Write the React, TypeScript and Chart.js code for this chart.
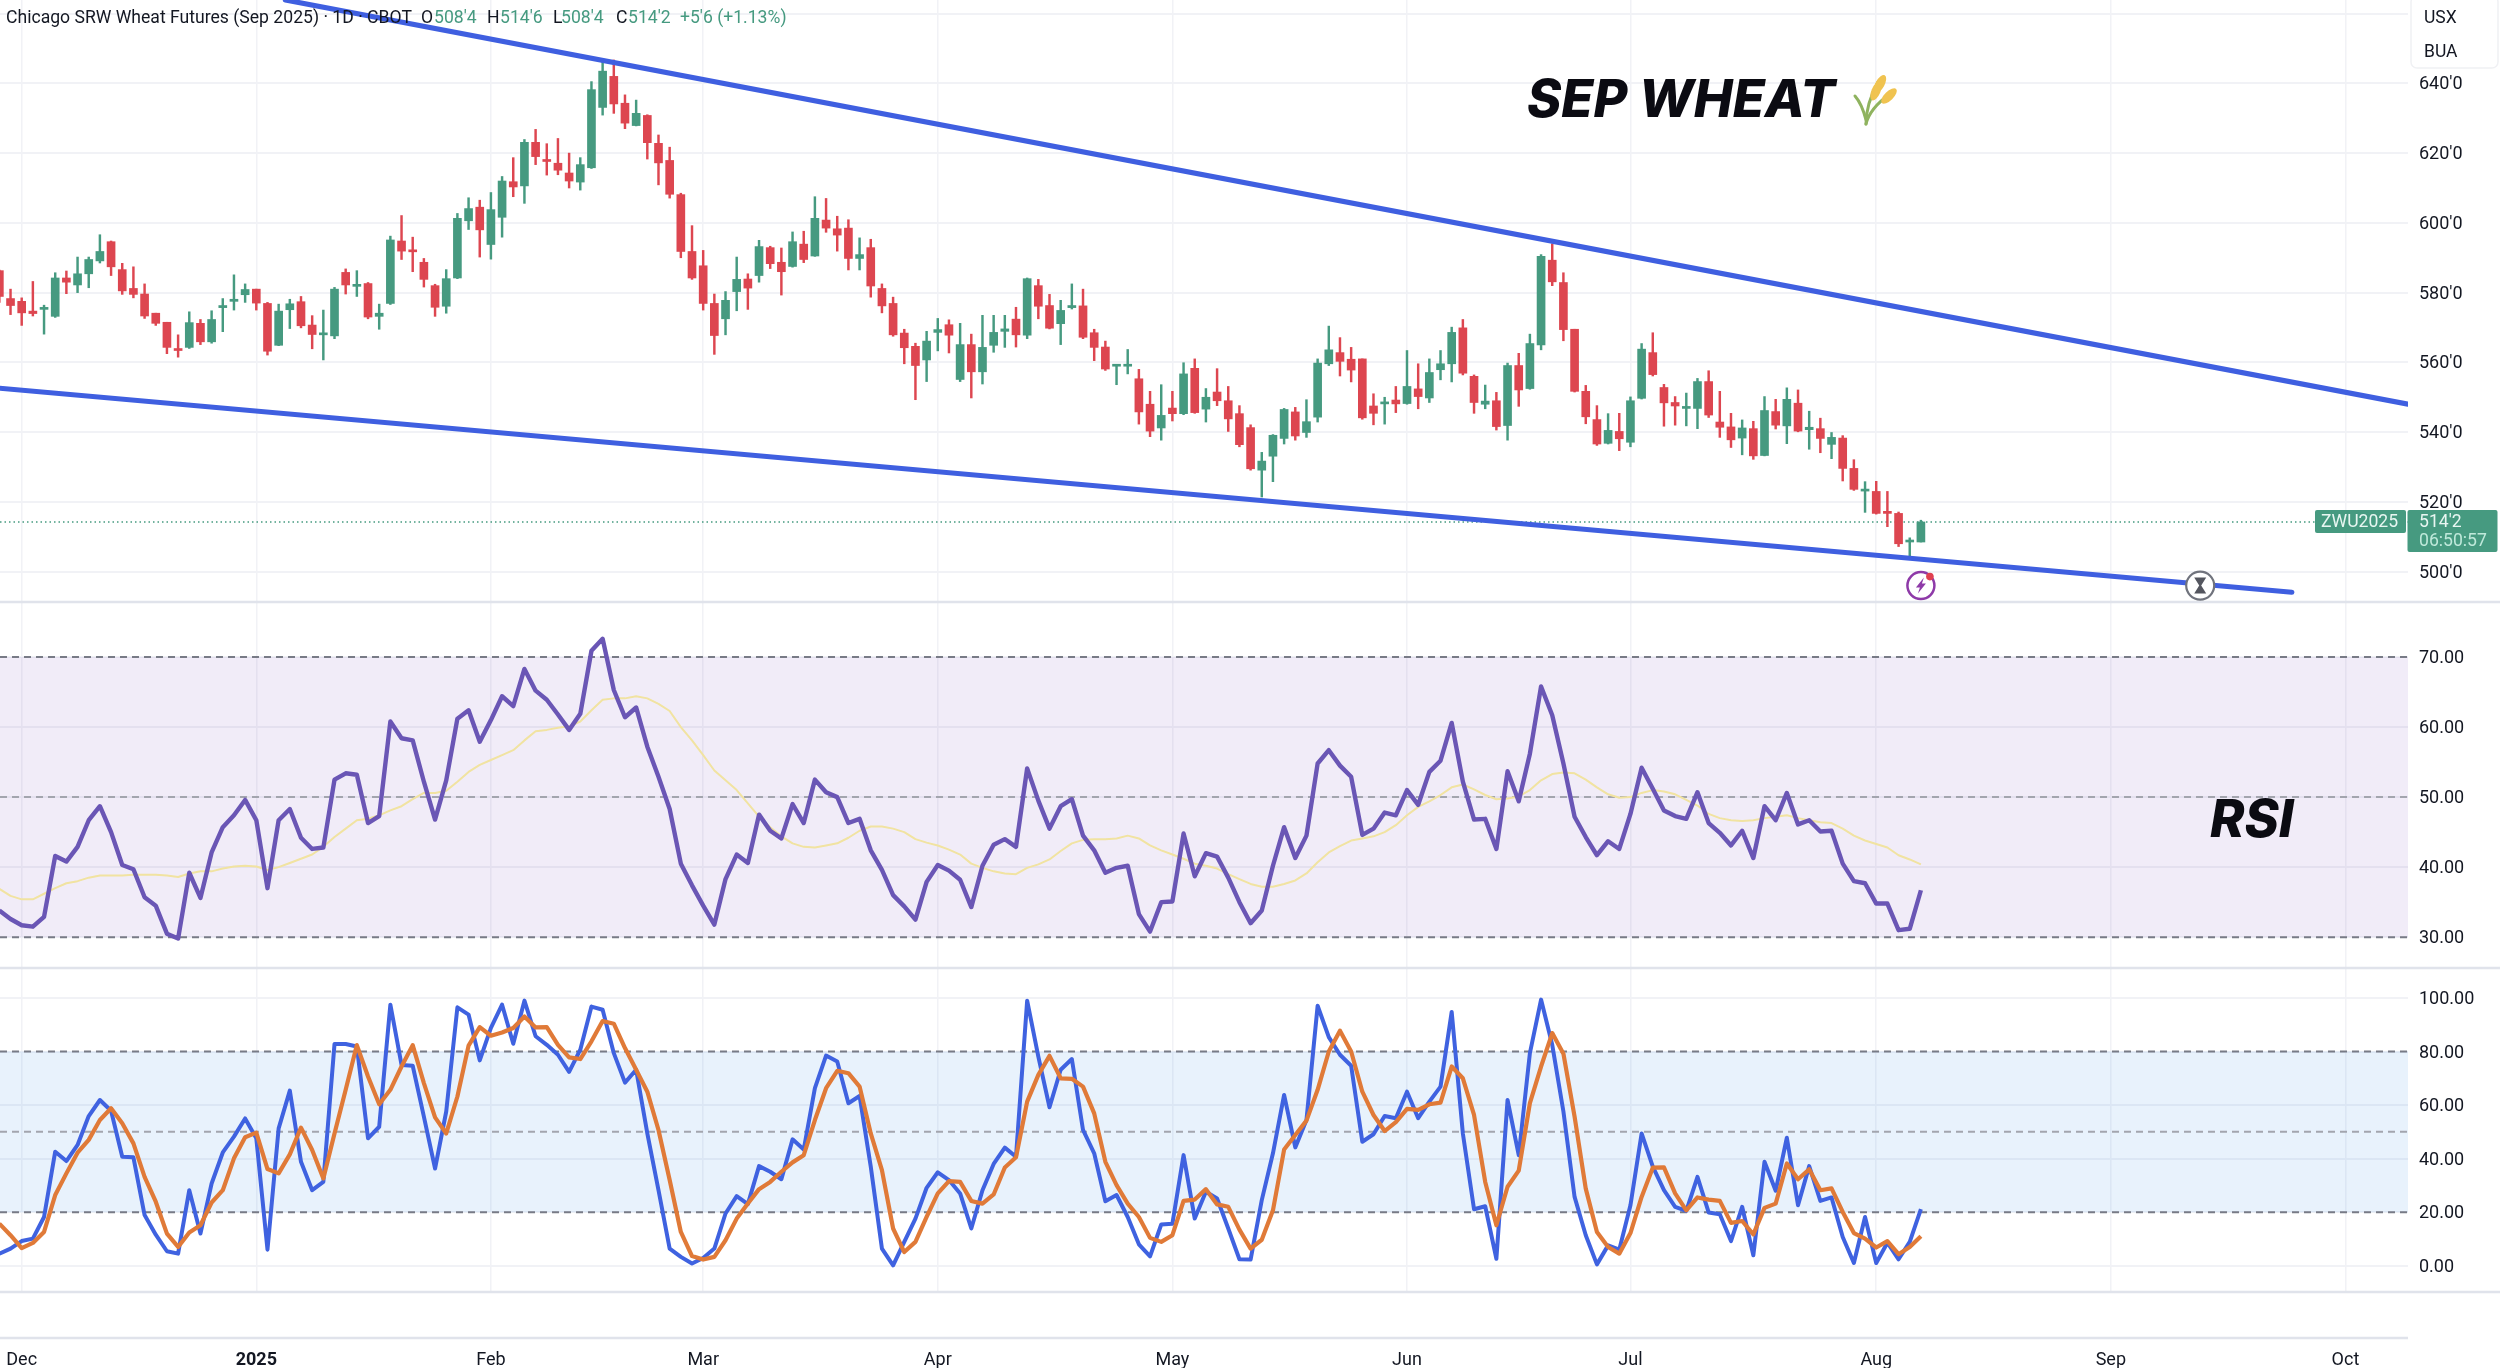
import React, { useEffect, useRef } from "react";
import { Chart, registerables } from "chart.js";

Chart.register(...registerables);

const firstBar = -2;
const opens = [586.3,578.3,577.5,574.7,575.2,573.2,584.2,582.2,585.4,589.1,
594.6,586.6,581.2,579.6,574.1,571.5,563.8,564.3,571.2,565.9,
575.7,577.5,579.4,581.0,576.9,564.9,575.1,577.4,570.7,567.9,
567.6,585.8,581.8,582.6,573.2,576.9,594.8,592.2,588.7,582.0,
576.1,584.2,600.6,604.5,593.8,601.6,611.8,610.6,623.1,618.0,
617.1,614.3,611.7,615.8,633.1,642.0,634.3,627.9,630.8,622.8,
617.9,608.1,591.8,587.7,576.9,572.5,580.3,583.9,584.9,592.9,
588.7,587.5,593.9,590.5,600.8,598.3,598.5,589.8,592.9,581.2,
576.9,568.4,564.6,560.7,568.6,570.8,555.1,565.1,557.3,564.9,
568.9,572.4,567.8,582.0,576.3,571.1,575.7,576.2,568.5,564.4,
558.9,558.9,555.3,548.0,541.2,546.9,545.3,558.3,546.6,551.5,
549.0,545.3,541.3,529.1,533.1,538.2,545.8,539.9,544.3,559.6,
562.8,560.9,561.0,547.5,548.1,549.2,548.2,552.4,549.8,557.9,
559.6,569.9,556.0,548.0,549.0,541.9,559.1,552.5,565.0,589.3,
582.9,569.5,551.7,543.6,536.8,540.2,537.1,549.7,562.8,552.8,
548.5,546.8,546.8,554.5,542.9,541.5,538.3,541.0,533.3,545.9,
541.8,548.3,540.7,541.0,536.5,538.3,529.6,523.1,523.0,517.3,
516.7,508.5,508.5];
const closes = [578.9,576.3,574.2,574.0,575.7,584.2,583.0,585.4,589.5,591.8,
587.4,580.5,579.5,573.3,571.2,564.3,563.4,571.4,565.9,572.3,
576.3,578.1,580.9,577.0,563.2,574.7,576.8,570.5,568.0,568.4,
581.0,582.2,582.2,573.0,574.1,595.1,591.9,591.7,583.8,575.8,
584.0,601.3,604.1,598.0,603.8,612.0,610.3,623.1,619.0,617.6,
615.1,612.0,616.7,638.2,643.5,634.1,628.6,631.4,623.0,617.2,
608.2,591.8,584.2,576.9,567.7,577.8,583.8,581.3,593.2,588.3,
586.0,594.6,589.5,601.3,598.5,596.5,589.8,590.9,581.9,576.2,
567.9,564.2,559.1,566.1,569.4,567.8,565.1,557.3,564.3,568.6,
569.6,567.9,584.0,576.1,569.8,574.9,576.3,567.2,564.3,558.1,
559.2,559.3,545.8,540.3,544.8,545.3,556.7,545.6,550.0,549.0,
543.8,536.4,529.5,531.7,539.1,546.5,538.9,543.0,559.8,563.6,
560.3,557.8,544.1,545.4,548.6,548.1,553.1,550.2,557.1,559.6,
568.6,556.9,548.5,548.9,541.6,559.1,552.1,565.4,590.4,583.1,
569.4,551.7,544.4,536.6,540.5,538.1,549.0,563.8,556.5,548.4,
547.5,547.2,554.5,544.9,541.4,537.8,541.2,533.2,546.2,542.0,
549.4,540.3,541.4,538.2,538.5,529.6,523.6,523.6,516.7,516.7,
508.0,508.8,514.25];
const highs = [586.5,581.0,578.5,583.2,576.4,585.7,586.2,590.2,590.2,596.6,
594.8,588.4,587.4,582.5,574.1,571.5,567.9,574.5,572.3,574.8,
578.3,585.1,582.5,581.0,577.2,576.7,578.1,578.9,573.4,575.0,
581.5,586.8,586.3,582.9,576.7,596.2,602.1,595.9,589.8,582.4,
586.6,602.7,607.2,606.5,608.7,613.3,618.7,623.9,626.8,622.7,
624.2,620.0,618.7,640.5,646.1,646.7,636.7,635.2,631.0,625.2,
621.7,608.5,599.2,592.1,579.6,580.3,590.2,585.4,595.0,593.3,
592.8,597.4,597.6,607.5,607.0,601.9,600.9,595.7,595.3,582.5,
578.7,569.5,565.5,568.9,572.6,572.2,571.2,568.1,573.5,573.5,
573.5,575.8,584.2,583.8,579.5,577.8,582.5,581.0,569.5,566.1,
559.2,563.7,558.0,551.7,553.6,551.7,559.9,561.0,552.5,558.2,
553.1,547.6,542.1,534.2,539.3,546.8,547.1,549.3,561.0,570.4,
567.1,564.3,561.0,551.0,550.0,553.1,563.4,559.6,561.0,563.4,
570.1,572.3,556.4,553.5,551.4,559.8,562.6,568.1,590.9,594.0,
585.7,569.5,553.4,547.6,545.3,545.4,550.1,565.4,568.5,553.7,
550.2,551.2,555.4,557.6,551.7,545.4,543.5,543.1,550.2,549.4,
552.7,552.1,546.0,544.0,539.9,539.0,532.1,525.8,525.9,523.0,
517.1,509.7,514.75];
const lows = [577.2,573.7,570.6,573.3,568.1,572.9,579.7,580.0,581.4,588.5,
584.9,579.5,578.5,572.6,570.6,562.5,561.5,564.0,565.1,565.5,
568.8,575.0,577.2,575.0,562.1,564.8,569.7,569.9,563.9,560.7,
566.8,579.6,578.9,572.5,569.5,576.6,589.5,586.0,581.6,573.2,
574.1,584.0,598.1,590.2,589.6,595.9,607.5,605.6,616.7,613.7,
613.8,610.0,609.4,615.6,630.9,631.4,627.0,627.8,618.3,610.9,
607.1,590.0,583.8,575.0,562.3,567.9,574.8,575.2,583.0,586.9,
579.3,587.3,588.6,590.4,597.3,591.9,586.5,586.5,578.7,574.2,
567.5,559.6,549.3,554.5,563.3,562.7,554.5,549.8,553.8,562.9,
564.3,564.4,566.8,572.5,569.6,565.1,575.3,566.8,560.5,557.7,
553.6,556.7,542.3,538.7,537.7,543.2,545.0,545.4,542.9,547.6,
540.2,535.8,529.1,521.4,525.8,536.6,537.7,538.5,542.9,559.1,
556.1,554.4,543.7,542.1,542.3,545.6,548.0,546.7,548.5,555.0,
554.4,556.4,545.4,546.7,540.6,537.7,547.4,552.3,563.6,582.0,
566.2,551.5,542.4,536.2,536.6,534.7,535.8,549.5,556.1,541.7,
542.0,541.8,541.0,544.2,538.5,535.6,533.5,532.2,533.2,540.9,
536.7,540.1,535.1,534.1,532.4,526.0,523.3,517.0,516.5,512.9,
507.2,503.8,508.5];

const rsi = [33.8,32.6,31.7,31.5,32.9,41.6,40.8,42.9,46.7,48.7,45.0,40.3,39.7,35.7,34.5,30.5,29.8,39.2,35.6,42.1,
45.7,47.4,49.6,46.7,37.0,46.7,48.3,44.2,42.6,42.8,52.5,53.4,53.2,46.3,47.3,60.8,58.4,58.1,52.2,46.8,
52.4,61.2,62.4,57.9,61.0,64.4,63.0,68.3,65.2,63.9,61.8,59.6,61.9,70.9,72.6,65.3,61.4,62.8,57.2,52.9,
48.3,40.5,37.4,34.5,31.8,38.3,41.8,40.6,47.5,45.2,44.1,49.0,46.3,52.5,50.7,50.0,46.3,46.9,42.4,39.6,
36.0,34.4,32.5,37.9,40.3,39.5,38.2,34.3,40.2,43.2,44.0,42.9,54.1,49.5,45.5,48.7,49.7,44.5,42.4,39.2,
39.9,40.2,33.3,30.8,35.0,35.1,44.8,38.7,42.0,41.5,38.5,35.0,32.0,33.8,40.2,45.7,41.3,44.5,54.8,56.7,
54.5,52.9,44.6,45.5,47.8,47.4,51.0,48.9,53.6,55.2,60.6,52.2,46.8,46.9,42.6,53.7,49.4,56.2,65.8,61.7,
54.8,47.2,44.3,41.7,43.7,42.6,47.6,54.2,51.2,48.1,47.3,46.9,50.7,46.3,44.9,43.1,45.2,41.3,48.7,46.7,
50.6,46.1,46.7,45.1,45.2,40.5,38.0,37.7,34.8,34.8,31.0,31.2,36.7];
const rsiMa = [36.9,35.9,35.4,35.4,36.2,37.0,37.7,38.0,38.5,38.8,38.8,38.8,38.9,38.9,38.9,38.8,38.6,39.1,39.4,39.4,
39.8,40.1,40.2,40.1,39.6,40.0,40.6,41.2,41.8,42.9,44.3,45.5,46.7,46.9,47.4,48.1,48.7,49.7,50.6,50.6,
50.9,52.2,53.6,54.6,55.3,56.0,56.7,58.1,59.4,59.6,59.9,60.1,60.8,62.4,63.9,64.1,64.1,64.4,64.1,63.3,
62.3,60.0,58.1,56.0,53.8,52.4,51.0,49.1,47.2,45.7,44.4,43.4,42.9,42.8,43.1,43.4,44.2,45.2,45.8,45.8,
45.5,45.0,44.0,43.5,43.1,42.5,41.8,40.5,39.9,39.4,39.1,39.0,39.9,40.4,41.1,42.3,43.4,43.9,44.0,44.0,
44.1,44.5,44.1,43.1,42.4,41.8,41.2,40.5,40.2,39.8,39.0,38.3,37.6,37.2,37.2,37.6,38.1,39.1,40.7,42.1,
43.0,43.8,44.1,44.4,45.0,46.0,47.4,48.6,49.4,50.3,51.4,51.8,51.1,50.3,49.7,49.8,50.1,51.0,52.4,53.3,
53.5,53.4,52.5,51.4,50.4,49.9,50.0,50.6,51.0,50.8,50.4,49.6,48.8,47.6,47.0,46.7,46.6,46.7,47.0,47.2,
47.4,47.0,46.7,46.4,46.3,45.5,44.5,43.8,43.3,42.8,41.7,41.1,40.4];
const stochK = [4.5,6.4,9.2,10.1,18.2,42.6,39.1,45.1,55.9,61.9,57.9,40.7,40.5,18.9,11.6,5.4,4.5,28.2,12.0,30.7,
42.3,48.2,55.0,47.6,6.0,51.3,65.4,38.8,28.2,31.3,82.8,82.8,81.9,47.6,51.9,97.5,75.0,74.7,55.7,36.3,
57.6,96.5,93.8,76.7,88.8,97.5,82.9,99.0,85.7,82.5,78.8,72.4,80.7,96.8,95.6,79.4,68.4,73.2,49.4,28.2,
6.4,3.3,0.8,2.9,6.4,19.5,26.0,23.0,37.2,35.1,32.3,47.2,43.4,66.3,78.5,76.3,60.7,63.4,37.0,6.4,
0.1,8.9,17.6,29.1,34.9,32.0,27.0,13.9,28.2,38.0,44.1,40.7,99.0,78.1,59.2,73.2,77.2,50.7,42.0,24.1,
26.4,18.2,8.0,3.5,15.4,15.7,41.3,17.6,27.6,25.1,13.9,2.4,2.3,24.5,42.0,63.8,44.2,54.4,97.1,85.4,
78.8,74.7,46.3,49.1,55.9,55.1,65.0,55.1,61.3,66.9,94.8,49.4,21.1,22.2,2.6,61.9,41.3,79.4,99.4,82.5,
57.6,25.7,11.4,0.5,7.6,6.0,22.6,49.4,37.0,28.2,22.0,20.5,33.2,19.9,19.2,9.2,22.0,3.9,38.8,28.0,
47.8,22.6,37.2,24.2,25.5,10.7,1.0,18.2,1.0,8.6,2.4,8.9,21.1];
const stochD = [15.7,11.4,6.6,8.5,12.6,26.4,34.5,42.2,47.0,54.4,58.8,53.2,45.7,33.2,23.9,12.0,7.0,12.4,15.1,23.6,
28.2,40.1,48.0,49.7,36.1,34.5,41.6,51.6,43.2,32.6,49.4,65.7,82.4,70.7,60.3,65.7,74.4,82.4,68.2,55.4,
49.4,63.2,82.2,89.1,85.9,87.1,88.8,93.1,89.0,89.1,82.5,77.8,77.2,83.8,91.4,90.4,81.3,73.2,65.0,50.7,
32.0,12.6,3.6,2.3,3.3,9.5,17.6,23.2,28.6,31.3,35.1,38.6,41.3,54.4,66.3,72.8,71.9,66.9,49.4,35.7,
13.9,5.1,8.9,18.2,27.0,31.6,31.3,24.2,23.2,26.6,36.7,40.5,61.3,71.3,78.4,70.0,69.8,66.9,56.9,38.8,
30.1,23.2,18.2,10.4,8.9,11.4,24.2,24.7,28.6,22.9,22.0,13.5,6.4,9.7,20.7,43.4,48.8,54.2,65.7,80.0,
87.8,80.0,65.0,56.3,50.3,53.6,58.6,58.2,60.3,60.9,74.4,70.0,56.3,31.3,15.1,29.5,35.5,60.7,74.4,86.9,
79.2,55.7,28.8,12.6,7.0,4.5,12.2,25.7,36.6,36.7,27.0,20.7,25.5,24.7,24.2,16.0,16.7,11.7,21.6,23.2,
38.2,32.3,36.0,28.2,28.9,20.1,12.2,10.1,6.8,9.2,4.3,7.0,11.0];

const monthTicks = [0, 21, 42, 61, 82, 103, 124, 144, 166, 187, 208];
const monthLabels = ["Dec", "2025", "Feb", "Mar", "Apr", "May", "Jun", "Jul", "Aug", "Sep", "Oct"];
const priceTicks = [500, 520, 540, 560, 580, 600, 620, 640, 660];
const rsiTicks = [30, 40, 50, 60, 70];
const stochTicks = [0, 20, 40, 60, 80, 100];
const upperTrend = [{ x: 23.6, y: 663.9 }, { x: 213.6, y: 548.0 }];
const lowerTrend = [{ x: -2, y: 552.6 }, { x: 203.2, y: 494.1 }];

const X_MIN = -1.942;
const X_MAX = 213.6;
const UP = "#469a80";
const DOWN = "#dd4650";
const GRID = "#f1f2f6";
const SEP = "#e0e3eb";
const FONT = "Roboto";

const xOf = (i: number) => i + firstBar;
const series = (a: number[]) => a.map((y, i) => ({ x: xOf(i), y }));
const hline = (y: number) => [{ x: X_MIN, y }, { x: X_MAX, y }];
const colors = opens.map((o, i) => (closes[i] >= o ? UP : DOWN));

const noPadding = (s: any) => {
  s.paddingLeft = 0;
  s.paddingRight = 0;
  s.paddingTop = 0;
  s.paddingBottom = 0;
};

const sidePlugin = {
  id: "side",
  beforeDraw(chart: any) {
    for (const id of ["yMain", "yRsi", "yStoch"]) {
      for (const item of chart.scales[id].getLabelItems(chart.chartArea)) {
        item.options.translation[1] += 1.5;
      }
    }
  },
  afterDraw(chart: any) {
    const { ctx } = chart;
    const x = chart.scales.x;
    const main = chart.scales.yMain;
    ctx.save();
    // pane borders
    ctx.strokeStyle = SEP;
    ctx.lineWidth = 2.5;
    for (const y of [main.bottom, chart.scales.yRsi.bottom, chart.scales.yStoch.bottom]) {
      ctx.beginPath();
      ctx.moveTo(0, y);
      ctx.lineTo(2500, y);
      ctx.stroke();
    }
    ctx.beginPath();
    ctx.moveTo(0, 1338);
    ctx.lineTo(x.right, 1338);
    ctx.stroke();

    ctx.textBaseline = "middle";
    ctx.textAlign = "left";
    // header
    const hy = 18.5;
    ctx.font = `17.6px ${FONT}`;
    ctx.fillStyle = "#131722";
    ctx.fillText("Chicago SRW Wheat Futures (Sep 2025) · 1D · CBOT", 6, hy);
    const ohlc: [string, number, string, number][] = [
      ["O", 421, "508'4", 434],
      ["H", 487, "514'6", 500],
      ["L", 553, "508'4", 561],
      ["C", 616, "514'2", 628],
    ];
    for (const [k, kx, v, vx] of ohlc) {
      ctx.fillStyle = "#131722";
      ctx.fillText(k, kx, hy);
      ctx.fillStyle = UP;
      ctx.fillText(v, vx, hy);
    }
    ctx.fillStyle = UP;
    ctx.fillText("+5'6 (+1.13%)", 680, hy);

    // big labels
    ctx.fillStyle = "#0b0b12";
    ctx.font = "italic 800 52px Inter";
    ctx.fillText("SEP WHEAT", 1527, 101);
    ctx.fillText("RSI", 2210, 821);

    // wheat emoji
    ctx.lineCap = "round";
    ctx.strokeStyle = "#8fb35f";
    ctx.lineWidth = 3;
    const stem = (x0: number, y0: number, cx: number, cy: number, x1: number, y1: number) => {
      ctx.beginPath();
      ctx.moveTo(x0, y0);
      ctx.quadraticCurveTo(cx, cy, x1, y1);
      ctx.stroke();
    };
    stem(1866, 124, 1866, 104, 1878, 82);
    stem(1866, 124, 1870, 108, 1890, 94);
    stem(1866, 120, 1862, 104, 1855, 96);
    ctx.fillStyle = "#f0c350";
    for (const [gx, gy, a] of [[1880, 84, 0.5], [1889, 96, 0.8], [1876, 91, 0.4]]) {
      ctx.beginPath();
      ctx.ellipse(gx, gy, 4.5, 10, a, 0, Math.PI * 2);
      ctx.fill();
    }

    // USX / BUA box
    ctx.strokeStyle = "#f0f1f4";
    ctx.lineWidth = 1.5;
    ctx.beginPath();
    ctx.roundRect(2411, -4, 87, 72, 6);
    ctx.stroke();
    ctx.fillStyle = "#131722";
    ctx.font = `17.5px ${FONT}`;
    ctx.fillText("USX", 2424, 19);
    ctx.fillText("BUA", 2424, 53);

    // last price tags
    const yLast = main.getPixelForValue(closes[closes.length - 1]);
    ctx.fillStyle = UP;
    ctx.beginPath();
    ctx.roundRect(2315, yLast - 12, 91, 23, 2);
    ctx.fill();
    ctx.beginPath();
    ctx.roundRect(2407.5, yLast - 12, 90, 42, 2);
    ctx.fill();
    ctx.font = `17.6px ${FONT}`;
    ctx.fillStyle = "#e8f6f1";
    ctx.fillText("ZWU2025", 2321, yLast + 1);
    ctx.fillText("514'2", 2419, yLast + 1);
    ctx.fillStyle = "#bfe9da";
    ctx.fillText("06:50:57", 2419, yLast + 20);

    // icons
    const iy = main.getPixelForValue(496);
    const ix1 = x.getPixelForValue(170);
    ctx.lineWidth = 2.5;
    ctx.strokeStyle = "#8e3aa8";
    ctx.fillStyle = "#ffffff";
    ctx.beginPath();
    ctx.arc(ix1, iy, 13.5, 0, Math.PI * 2);
    ctx.fill();
    ctx.stroke();
    ctx.fillStyle = "#8e3aa8";
    ctx.beginPath();
    ctx.moveTo(ix1 + 3, iy - 8);
    ctx.lineTo(ix1 - 5, iy + 2);
    ctx.lineTo(ix1 - 1, iy + 2);
    ctx.lineTo(ix1 - 3, iy + 8);
    ctx.lineTo(ix1 + 5, iy - 2);
    ctx.lineTo(ix1 + 1, iy - 2);
    ctx.closePath();
    ctx.fill();
    ctx.fillStyle = "#e04050";
    ctx.beginPath();
    ctx.arc(ix1 + 9, iy - 9, 3.8, 0, Math.PI * 2);
    ctx.fill();

    const ix2 = x.getPixelForValue(195);
    ctx.strokeStyle = "#70737d";
    ctx.fillStyle = "#ffffff";
    ctx.lineWidth = 2.2;
    ctx.beginPath();
    ctx.arc(ix2, iy, 14, 0, Math.PI * 2);
    ctx.fill();
    ctx.stroke();
    ctx.fillStyle = "#54565f";
    ctx.beginPath();
    ctx.moveTo(ix2 - 6, iy - 8);
    ctx.lineTo(ix2 + 6, iy - 8);
    ctx.lineTo(ix2 + 1, iy);
    ctx.lineTo(ix2 + 6, iy + 8);
    ctx.lineTo(ix2 - 6, iy + 8);
    ctx.lineTo(ix2 - 1, iy);
    ctx.closePath();
    ctx.fill();
    ctx.restore();
  },
};

const yCommon = (ticks: number[], fmt: (v: number) => string) => ({
  type: "linear",
  position: "right",
  stack: "panes",
  offset: false,
  border: { display: false },
  grid: { color: GRID, lineWidth: 2, drawTicks: false },
  afterBuildTicks: (s: any) => {
    s.ticks = ticks.map((value) => ({ value }));
  },
  afterFit: (s: any) => {
    s.width = 92;
    noPadding(s);
  },
  ticks: {
    padding: 11,
    autoSkip: false,
    color: "#131722",
    font: { family: FONT, size: 18 },
    callback: (v: any) => fmt(Number(v)),
  },
});

export default function App() {
  const ref = useRef<HTMLCanvasElement>(null);
  useEffect(() => {
    const line = (
      data: any[],
      yAxisID: string,
      color: string,
      width: number,
      order: number,
      extra: any = {}
    ) => ({
      type: "line",
      data,
      yAxisID,
      xAxisID: "x",
      borderColor: color,
      borderWidth: width,
      pointRadius: 0,
      tension: 0,
      order,
      borderJoinStyle: "round",
      ...extra,
    });
    const chart = new Chart(ref.current as HTMLCanvasElement, {
      type: "bar",
      data: {
        datasets: [
          line(hline(70), "yRsi", "#787b86", 2, 20, {
            borderDash: [7, 5],
            fill: { value: 30 },
            backgroundColor: "rgba(103,58,183,0.095)",
          }),
          line(hline(50), "yRsi", "#a3a5ae", 2, 19, { borderDash: [7, 5] }),
          line(hline(30), "yRsi", "#787b86", 2, 19, { borderDash: [7, 5] }),
          line(hline(80), "yStoch", "#787b86", 2, 20, {
            borderDash: [7, 5],
            fill: { value: 20 },
            backgroundColor: "rgba(33,130,225,0.1)",
          }),
          line(hline(50), "yStoch", "#a3a5ae", 2, 19, { borderDash: [7, 5] }),
          line(hline(20), "yStoch", "#787b86", 2, 19, { borderDash: [7, 5] }),
          line(hline(closes[closes.length - 1]), "yMain", UP, 1.5, 15, { borderDash: [1.5, 3] }),
          {
            type: "bar",
            data: highs.map((h, i) => ({ x: xOf(i), y: [lows[i], h] })),
            yAxisID: "yMain",
            xAxisID: "x",
            backgroundColor: colors,
            barThickness: 1.8,
            grouped: false,
            order: 6,
          },
          {
            type: "bar",
            data: opens.map((o, i) => ({ x: xOf(i), y: [o, closes[i]] })),
            yAxisID: "yMain",
            xAxisID: "x",
            backgroundColor: colors,
            barThickness: 8,
            minBarLength: 2,
            grouped: false,
            order: 5,
          },
          line(upperTrend, "yMain", "#3f5fe0", 5.2, 1, { borderCapStyle: "round" }),
          line(lowerTrend, "yMain", "#3f5fe0", 5.2, 1, { borderCapStyle: "round" }),
          line(series(rsiMa), "yRsi", "#f1e3a1", 2, 4),
          line(series(rsi), "yRsi", "#6a56b5", 4.4, 3),
          line(series(stochK), "yStoch", "#3f62e0", 4, 3),
          line(series(stochD), "yStoch", "#e07a38", 4.2, 2),
        ] as any,
      },
      plugins: [sidePlugin],
      options: {
        responsive: false,
        animation: false,
        devicePixelRatio: 1,
        events: [],
        layout: { padding: 0, autoPadding: false },
        plugins: { legend: { display: false }, tooltip: { enabled: false }, title: { display: false } },
        scales: {
          x: {
            type: "linear",
            min: X_MIN,
            max: X_MAX,
            offset: false,
            border: { display: false },
            grid: { color: GRID, lineWidth: 1.5, drawTicks: false, offset: false },
            afterBuildTicks: (s: any) => {
              s.ticks = monthTicks.map((value) => ({ value }));
            },
            afterFit: (s: any) => {
              s.height = 76;
              noPadding(s);
            },
            ticks: {
              padding: 57.5,
              autoSkip: false,
              maxRotation: 0,
              color: "#131722",
              font: (c: any) => ({
                family: FONT,
                size: 18,
                weight: monthLabels[c.index] === "2025" ? "700" : "400",
              }),
              callback: (_v: any, i: number) => monthLabels[i],
            },
          },
          yMain: {
            ...yCommon(priceTicks, (v) => (v === 660 ? "" : `${v}'0`)),
            min: 491.3,
            max: 663.9,
            stackWeight: 602,
          },
          yRsi: {
            ...yCommon(rsiTicks, (v) => v.toFixed(2)),
            min: 25.6,
            max: 77.86,
            stackWeight: 366,
          },
          yStoch: {
            ...yCommon(stochTicks, (v) => v.toFixed(2)),
            min: -9.82,
            max: 111.2,
            stackWeight: 324,
          },
        } as any,
      } as any,
    });
    return () => chart.destroy();
  }, []);
  return (
    <div style={{ position: "fixed", left: 0, top: 0, width: 2500, height: 1368, background: "#fff" }}>
      <canvas ref={ref} width={2500} height={1368} style={{ display: "block" }} />
    </div>
  );
}
